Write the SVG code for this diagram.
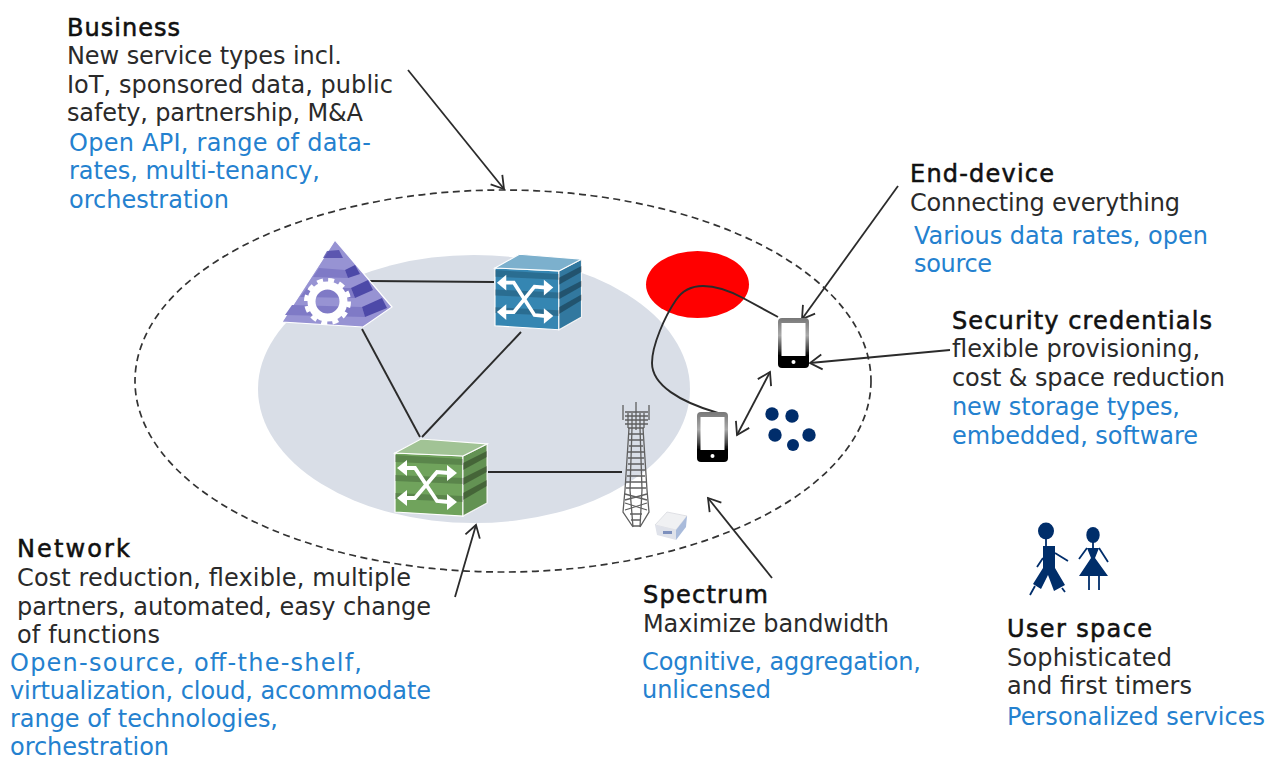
<svg xmlns="http://www.w3.org/2000/svg" width="1267" height="760" viewBox="0 0 1267 760">
<style>
text{font-family:"DejaVu Sans","Liberation Sans",sans-serif;font-size:24px;fill:#2a2a2a}
.h{fill:#111;stroke:#111;stroke-width:.55}
.b{fill:#2481cf}
.edge{fill:none;stroke:#2b2b2b;stroke-width:1.9}
.arrow{fill:none;stroke:#2b2b2b;stroke-width:1.8;marker-end:url(#open)}
.dbl{marker-start:url(#openS)}
.dot{fill:#002d6b}
.tw{fill:none;stroke:#5f5f5f;stroke-width:1.3}
.soft{filter:url(#soft)}
</style>
<defs>
<filter id="soft" x="-10%" y="-10%" width="120%" height="120%"><feGaussianBlur stdDeviation=".55"/></filter>
<marker id="open" markerUnits="userSpaceOnUse" markerWidth="22" markerHeight="22" refX="15" refY="11" orient="auto"><path d="M3,3.5 L15,11 L3,18.5" fill="none" stroke="#2b2b2b" stroke-width="1.8"/></marker>
<marker id="openS" markerUnits="userSpaceOnUse" markerWidth="22" markerHeight="22" refX="7" refY="11" orient="auto"><path d="M19,3.5 L7,11 L19,18.5" fill="none" stroke="#2b2b2b" stroke-width="1.8"/></marker>
<linearGradient id="frame" x1="0" y1="0" x2="0" y2="1"><stop offset="0" stop-color="#777"/><stop offset=".35" stop-color="#aaa"/><stop offset=".62" stop-color="#444"/><stop offset=".75" stop-color="#000"/><stop offset="1" stop-color="#000"/></linearGradient>
<g id="cube">
<path d="M0,0 L68,3 L68,63 L0,59Z" fill="currentColor" stroke="#fff" stroke-width="1.2"/>
<path d="M68,3 L92,-9 L92,50 L68,63Z" fill="currentColor" stroke="#fff" stroke-width="1.2"/>
<path d="M68,3 L92,-9 L92,50 L68,63Z" fill="#000" opacity=".1"/>
<path d="M0,0 L26,-14 L92,-9 L68,3Z" fill="currentColor" stroke="#fff" stroke-width="1.2"/>
<path d="M0,0 L26,-14 L92,-9 L68,3Z" fill="#fff" opacity=".35"/>
<g fill="#000" opacity=".18">
<path d="M0,2 L68,6 L68,12 L0,9Z"/><path d="M0,22 L68,25 L68,31 L0,28Z"/><path d="M0,40 L68,43 L68,49 L0,46Z"/>
</g>
<g fill="#000" opacity=".3">
<path d="M68,10 L92,-2 L92,4 L68,17Z"/><path d="M68,25 L92,13 L92,19 L68,32Z"/><path d="M68,40 L92,27 L92,33 L68,47Z"/>
</g>
<g fill="none" stroke="#fff" stroke-width="3.8"><path d="M6,15 L20,15 L42,48 L54,49"/><path d="M6,45 L20,45 L42,19 L54,20"/></g>
<g fill="#fff"><path d="M2,15 L12,7 L12,23Z"/><path d="M2,45 L12,37 L12,53Z"/><path d="M62,20 L52,12 L52,28Z"/><path d="M62,49 L52,41 L52,57Z"/></g>
</g>
<g id="phone">
<rect x="0" y="0" width="31" height="50" rx="4" fill="url(#frame)"/>
<rect x="3.5" y="5" width="24" height="33" fill="#fff"/>
<circle cx="15.5" cy="44" r="2" fill="#fff"/>
</g>
</defs>
<rect width="1267" height="760" fill="#fff"/>
<ellipse id="backdrop" cx="474" cy="389" rx="216" ry="134" fill="#d9dee7"/>
<ellipse id="boundary" cx="503" cy="381" rx="368" ry="191" fill="none" stroke="#333" stroke-width="1.7" stroke-dasharray="7 4.5"/>
<ellipse id="red-spot" cx="697.5" cy="284.5" rx="51.5" ry="33.5" fill="#ff0000"/>
<g id="connectors">
<path class="edge" d="M369,281 L494,282"/>
<path class="edge" d="M362,329 L420,437"/>
<path class="edge" d="M521,332 L422,437"/>
<path class="edge" d="M488,472 L622,472"/>
<path class="edge" d="M778,317 L743,298 C730,291 715,286 703,286 C690,286 682,291 676,300 C665,316 652,345 652,363 C652,385 680,402 718,413"/>
<path class="arrow" d="M408,70 L504,189"/>
<path class="arrow" d="M898,186 L802,319"/>
<path class="arrow" d="M950,350 L810,363"/>
<path class="arrow" d="M772,578 L708,498"/>
<path class="arrow" d="M455,597 L476,525"/>
<path class="arrow dbl" d="M770,372 L737,435"/>
</g>
<g id="pyramid" class="soft">
<path d="M335,240 L282,322 L363,327 L392,307Z" fill="#9793d3" stroke="#fff" stroke-width="1.2"/>
<g fill="#7f7ac6"><path d="M319,268 L345,270 L348,278 L313,277Z"/><path d="M307,288 L351,288 L355,298 L300,297Z"/><path d="M292,305 L362,307 L365,317 L285,315Z"/></g>
<g fill="#4e49a8"><path d="M327,251 L339,250 L343,258 L323,258Z" opacity=".8"/><path d="M345,270 L355,265 L360,274 L348,278Z"/><path d="M351,288 L368,280 L373,290 L355,298Z"/><path d="M362,307 L382,298 L387,308 L365,317Z"/></g>
<circle cx="327.5" cy="301.5" r="16" fill="none" stroke="#fff" stroke-width="8"/>
<circle cx="327.5" cy="301.5" r="21.5" fill="none" stroke="#fff" stroke-width="4" stroke-dasharray="6 5.26"/>
</g>
<use id="switch-blue" class="soft" href="#cube" transform="translate(495,268) scale(.94,.98)" color="#3686b2"/>
<use id="switch-green" class="soft" href="#cube" transform="translate(395,453)" color="#6fa35c"/>
<g id="tower" class="soft">
<path class="tw" d="M636,402 V430 M623,405 V420 M649,405 V420 M625,412 H648 M625,416 H648 M625,420 H648 M625,424 H648 M628,428 H644 M628,413 V428 M632,413 V428 M636,413 V428 M640,413 V428 M644,413 V428"/>
<path class="tw" d="M629,428 L625,490 L623,512 L633,527 M643,428 L647,490 L649,512 L640,527 M632,428 L630,490 L633,527 M640,428 L642,490 L640,527"/>
<path class="tw" d="M629,434 H643 M629,440 H643 M629,446 H643 M628,452 H644 M628,458 H644 M628,464 H644 M627,470 H645 M627,476 H645 M626,482 H646 M626,488 H646 M625,494 L647,500 M647,494 L625,500 M625,503 L647,510 M647,503 L625,510 M630,514 H642 M631,520 H641 M633,526 H640"/>
</g>
<g id="small-cell" class="soft">
<path d="M655,525 L667,512 L687,516 L676,530Z" fill="#f0f1f3" stroke="#d5d7dc" stroke-width=".7"/>
<path d="M655,525 L676,530 L676,540 L657,535Z" fill="#dfe2ea"/>
<path d="M676,530 L687,516 L686,527 L676,540Z" fill="#a9bbdb"/>
<rect x="663" y="531" width="9" height="3" fill="#7d90bd"/>
</g>
<use id="phone-1" class="soft" href="#phone" x="778" y="318"/>
<use id="phone-2" class="soft" href="#phone" x="697" y="412"/>
<g id="devices">
<circle class="dot" cx="772" cy="414" r="6.7"/><circle class="dot" cx="792" cy="416" r="6.7"/><circle class="dot" cx="775" cy="435" r="6.7"/><circle class="dot" cx="809" cy="435" r="6.7"/><circle class="dot" cx="793" cy="445" r="6"/>
</g>
<g id="people" class="soft">
<g fill="#002d6b" stroke="none">
<ellipse cx="1046" cy="531" rx="8" ry="8.5"/>
<path d="M1043,546 H1055 V568 L1065,585 L1054,591 L1048,575 L1041,589 L1033,584 L1043,568Z"/>
<ellipse cx="1093" cy="535" rx="6.7" ry="8"/>
<path d="M1087,548 H1099 L1095,558 L1108,576 H1079 L1091,558Z"/>
</g>
<g fill="none" stroke="#002d6b" stroke-width="1.8">
<path d="M1046,538 V547 M1055,553 L1068,561 M1043,558 L1037,567 M1035,586 L1030,595 M1062,588 L1065,592"/>
<path d="M1093,542 V549 M1087,548 L1079,559 M1099,548 L1108,562 M1089,575 V590 M1099,575 V590"/>
</g>
</g>
<g id="business">
<text class="h" x="67" y="36" textLength="113">Business</text><text x="67" y="64" textLength="275">New service types incl.</text><text x="67" y="93" textLength="326">IoT, sponsored data, public</text><text x="67" y="121" textLength="296">safety, partnership, M&amp;A</text>
<text class="b" x="69" y="151" textLength="302">Open API, range of data-</text><text class="b" x="69" y="179" textLength="251">rates, multi-tenancy,</text><text class="b" x="69" y="208" textLength="160">orchestration</text>
</g>
<g id="end-device">
<text class="h" x="910" y="182" textLength="144">End-device</text><text x="910" y="211" textLength="270">Connecting everything</text><text class="b" x="914" y="244" textLength="294">Various data rates, open</text><text class="b" x="914" y="272" textLength="78">source</text>
</g>
<g id="security">
<text class="h" x="952" y="329" textLength="260">Security credentials</text><text x="952" y="357" textLength="248">flexible provisioning,</text><text x="952" y="386" textLength="273">cost &amp; space reduction</text><text class="b" x="952" y="415" textLength="228">new storage types,</text><text class="b" x="952" y="444" textLength="246">embedded, software</text>
</g>
<g id="network">
<text class="h" x="17" y="557" textLength="113">Network</text><text x="17" y="586" textLength="394">Cost reduction, flexible, multiple</text><text x="17" y="615" textLength="414">partners, automated, easy change</text><text x="17" y="643" textLength="143">of functions</text>
<text class="b" x="10" y="671" textLength="352">Open-source, off-the-shelf,</text><text class="b" x="10" y="699" textLength="421">virtualization, cloud, accommodate</text><text class="b" x="10" y="727" textLength="268">range of technologies,</text><text class="b" x="10" y="755" textLength="159">orchestration</text>
</g>
<g id="spectrum">
<text class="h" x="643" y="603" textLength="125">Spectrum</text><text x="643" y="632" textLength="246">Maximize bandwidth</text><text class="b" x="642" y="670" textLength="279">Cognitive, aggregation,</text><text class="b" x="642" y="698" textLength="129">unlicensed</text>
</g>
<g id="user-space">
<text class="h" x="1007" y="637" textLength="145">User space</text><text x="1007" y="666" textLength="165">Sophisticated</text><text x="1007" y="694" textLength="185">and first timers</text><text class="b" x="1007" y="725" textLength="258">Personalized services</text>
</g>
</svg>
